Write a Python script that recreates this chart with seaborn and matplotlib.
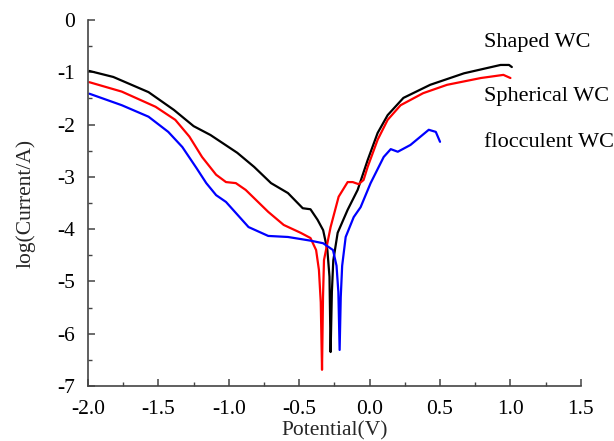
import matplotlib

matplotlib.use("Agg")
import matplotlib.pyplot as plt
import pandas as pd
import seaborn as sns
from matplotlib.ticker import FormatStrFormatter, MultipleLocator

# Tafel curves
shaped_v = [-1.99, -1.82, -1.57, -1.39, -1.25, -1.13, -0.94, -0.82, -0.70, -0.58,
            -0.475, -0.42, -0.37, -0.33, -0.30, -0.285, -0.277, -0.268, -0.258,
            -0.227, -0.156, -0.085, -0.014, 0.057, 0.128, 0.24, 0.43, 0.67, 0.93,
            0.99, 1.01]
shaped_i = [-0.975, -1.09, -1.38, -1.72, -2.03, -2.2, -2.54, -2.81, -3.12, -3.31,
            -3.6, -3.62, -3.82, -4.02, -4.4, -4.91, -6.35, -5.2, -4.6,
            -4.07, -3.63, -3.25, -2.68, -2.16, -1.82, -1.49, -1.24, -1.02, -0.86,
            -0.86, -0.9]

spherical_v = [-1.99, -1.76, -1.52, -1.38, -1.28, -1.19, -1.09, -1.02, -0.95, -0.88,
               -0.72, -0.61, -0.49, -0.42, -0.38, -0.36, -0.347, -0.338, -0.331,
               -0.324, -0.277, -0.22, -0.156, -0.12, -0.078, -0.043, -0.014, 0.057,
               0.128, 0.22, 0.38, 0.55, 0.79, 0.95, 1.0]
spherical_i = [-1.19, -1.37, -1.66, -1.91, -2.23, -2.62, -2.96, -3.10, -3.12, -3.25,
               -3.67, -3.92, -4.07, -4.17, -4.40, -4.78, -5.4, -6.69, -5.3,
               -4.59, -3.96, -3.38, -3.10, -3.10, -3.14, -3.06, -2.81, -2.29,
               -1.91, -1.63, -1.40, -1.24, -1.11, -1.05, -1.11]

flocculent_v = [-1.99, -1.76, -1.57, -1.43, -1.33, -1.23, -1.16, -1.09, -1.02, -0.95,
                -0.86, -0.72, -0.58, -0.42, -0.33, -0.26, -0.235, -0.222, -0.213,
                -0.205, -0.195, -0.17, -0.113, -0.064, 0.007, 0.1, 0.15, 0.2, 0.29,
                0.42, 0.47, 0.50]
flocculent_i = [-1.41, -1.63, -1.85, -2.14, -2.43, -2.83, -3.12, -3.35, -3.48, -3.69,
                -3.96, -4.13, -4.15, -4.22, -4.27, -4.40, -4.7, -5.2, -6.31,
                -5.3, -4.7, -4.15, -3.77, -3.58, -3.12, -2.62, -2.47, -2.52, -2.39,
                -2.10, -2.14, -2.33]

series_names = ["Shaped WC", "Spherical WC", "flocculent WC"]
series_colors = ["black", "#ff0000", "#0000ff"]
label_y = [-0.44, -1.47, -2.35]


def build_frame() -> pd.DataFrame:
    parts = []
    for name, v, i in zip(series_names,
                          [shaped_v, spherical_v, flocculent_v],
                          [shaped_i, spherical_i, flocculent_i]):
        parts.append(pd.DataFrame({"potential": v, "current": i, "sample": name}))
    return pd.concat(parts, ignore_index=True)


sns.set_theme(style="ticks")
plt.rcParams["font.family"] = ["Liberation Serif", "DejaVu Serif"]
plt.rcParams["axes.unicode_minus"] = False

df = build_frame()

fig = plt.figure(figsize=(6.14, 4.41), dpi=100)
ax = fig.add_axes([0.1433, 0.1247, 0.8027, 0.83])

for name, color in zip(series_names, series_colors):
    sns.lineplot(data=df[df["sample"] == name], x="potential", y="current",
                 color=color, linewidth=1.6, sort=False, estimator=None, ax=ax)

for name, y in zip(series_names, label_y):
    ax.text(0.81, y, name, fontsize=16, va="center", ha="left", color="black")

ax.set_xlim(-2.0, 1.5)
ax.set_ylim(-7, 0)
ax.xaxis.set_major_locator(MultipleLocator(0.5))
ax.xaxis.set_minor_locator(MultipleLocator(0.25))
ax.yaxis.set_major_locator(MultipleLocator(1))
ax.yaxis.set_minor_locator(MultipleLocator(0.5))
ax.xaxis.set_major_formatter(FormatStrFormatter("%.1f"))

for side in ["top", "right"]:
    ax.spines[side].set_visible(False)
for side in ["left", "bottom"]:
    ax.spines[side].set_color("#444444")
    ax.spines[side].set_linewidth(1.2)

ax.tick_params(which="both", direction="in", colors="#444444", labelcolor="black",
               labelsize=15.5)
ax.tick_params(axis="x", which="major", pad=10)
ax.tick_params(axis="y", which="major", pad=9)
ax.tick_params(which="major", length=5, width=1.1)
ax.tick_params(which="minor", length=3, width=1.0)

ax.set_xlabel("Potential(V)", fontsize=15.5, labelpad=2)
ax.set_ylabel("log(Current/A)", fontsize=15.5, labelpad=16)

fig.savefig("out.png", dpi=100)
